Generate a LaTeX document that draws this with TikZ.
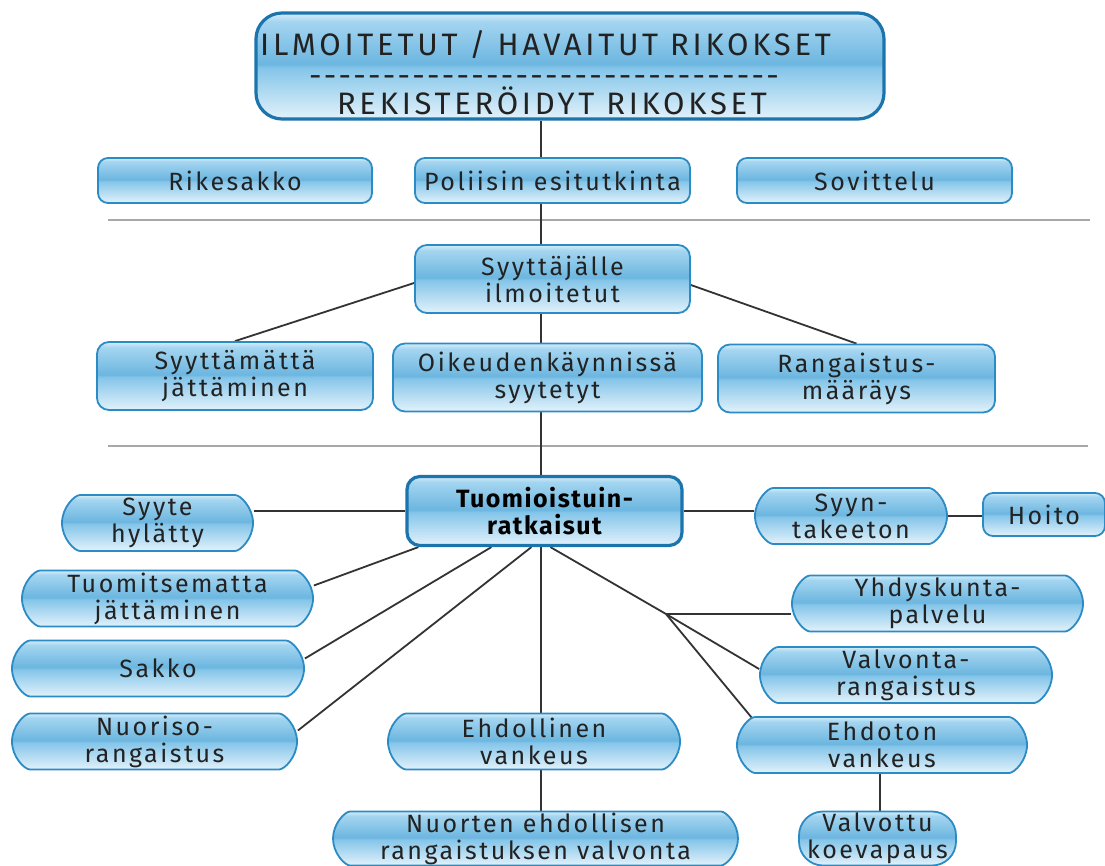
\documentclass[tikz,border=0pt]{standalone}
\usepackage{fontspec}
\setmainfont{Fira Sans}
\newfontfamily\labfont{Fira Sans}[LetterSpace=10]
\newfontfamily\boldlab{Fira Sans}[LetterSpace=6]
\newfontfamily\bigfont{Fira Sans}[LetterSpace=12]
\usetikzlibrary{shapes.misc,backgrounds}
\definecolor{bord}{HTML}{2A8BC5}
\definecolor{bordd}{HTML}{1C74AC}
\definecolor{txt}{HTML}{222222}
\definecolor{conn}{HTML}{333333}
\definecolor{sep}{HTML}{A8A8A8}
\definecolor{gB}{HTML}{E2F2FB}
\definecolor{gM1}{HTML}{85C5E9}
\definecolor{gM2}{HTML}{6CB6E0}
\definecolor{gT}{HTML}{A4D5F0}
\definecolor{gE}{HTML}{D6EDF9}
\pgfdeclareverticalshading{gloss}{100bp}{color(0bp)=(gB); color(25bp)=(gB); color(49bp)=(gM1); color(51bp)=(gM2); color(71bp)=(gT); color(75bp)=(gE); color(100bp)=(gE)}
\newcommand\dashrow{\count255=0 \loop\makebox[14.75pt]{-}\advance\count255 by 1 \ifnum\count255<32 \repeat}
\begin{document}
\begin{tikzpicture}[x=1pt,y=-1pt,
  box/.style={rectangle, draw=bord, line width=1.8pt, shade, shading=gloss, rounded corners=10pt,
    inner sep=0pt, align=center, text=txt, font=\labfont\fontsize{25}{27}\selectfont},
  pill/.style={box, rounded rectangle, rounded rectangle arc length=180},
  heavy/.style={draw=bordd, line width=3.2pt},
  conline/.style={draw=conn, line width=1.8pt},
  sepline/.style={draw=sep, line width=1.4pt},
  bigtext/.style={text=txt, font=\bigfont\fontsize{31}{36}\selectfont, inner sep=0pt}
]
\useasboundingbox (0,0) rectangle (1105,866);
\coordinate (sp) at (541,0);
\coordinate (vp) at (880,0);
\coordinate (j) at (666,614);
\coordinate (g1a) at (108,220);
\coordinate (g1b) at (1090,220);
\coordinate (g2a) at (108,446);
\coordinate (g2b) at (1088,446);

% top box
\node[box, heavy, rounded corners=26pt, minimum width=628pt, minimum height=106pt] (top) at (570,66) {};
\node[bigtext, anchor=west] (t1) at (260,45) {ILMOITETUT / HAVAITUT RIKOKSET};
\node[bigtext] (t2) at (544,81) {\dashrow};
\node[bigtext] (t3) at (552,101) {REKISTERÖIDYT RIKOKSET};

% row 2
\node[box, minimum width=274pt, minimum height=45pt] (rik) at (235,180.5) {Rikesakko};
\node[box, minimum width=275pt, minimum height=45pt] (pol) at (552.5,180.5) {Poliisin esitutkinta};
\node[box, minimum width=275pt, minimum height=45pt] (sov) at (874.5,180.5) {Sovittelu};

% row 3
\node[box, rounded corners=12pt, minimum width=275pt, minimum height=68pt] (syy) at (552.5,279) {Syyttäjälle\\ilmoitetut};
\node[box, rounded corners=12pt, minimum width=276pt, minimum height=68pt] (stm) at (235,376) {Syyttämättä\\jättäminen};
\node[box, rounded corners=12pt, minimum width=309pt, minimum height=68pt] (oik) at (547.5,377.5) {Oikeudenkäynnissä\\syytetyt};
\node[box, rounded corners=12pt, minimum width=277pt, minimum height=68pt] (ran) at (856.5,378.5) {Rangaistus-\\määräys};

% court
\node[box, heavy, rounded corners=13pt, minimum width=275pt, minimum height=69pt,
  font=\boldlab\bfseries\fontsize{25}{27}\selectfont, text=black] (tuo) at (544.5,511) {Tuomioistuin-\\ratkaisut};

% left
\node[pill, minimum width=191pt, minimum height=56pt] (syh) at (157.5,523) {Syyte\\hylätty};
\node[pill, minimum width=291pt, minimum height=56pt] (tuj) at (167.5,598.5) {Tuomitsematta\\jättäminen};
\node[pill, minimum width=292pt, minimum height=56pt] (sak) at (158,668.5) {Sakko};
\node[pill, minimum width=285pt, minimum height=56pt] (nur) at (154.5,741.5) {Nuoriso-\\rangaistus};

% middle
\node[pill, minimum width=292pt, minimum height=56pt] (ehl) at (534,741.5) {Ehdollinen\\vankeus};
\node[pill, minimum width=405pt, minimum height=54pt] (nev) at (535.5,838.5) {Nuorten ehdollisen\\rangaistuksen valvonta};

% right
\node[pill, minimum width=192pt, minimum height=56pt] (syn) at (851,516) {Syyn-\\takeeton};
\node[box, minimum width=122pt, minimum height=43pt] (hoi) at (1044,514.5) {Hoito};
\node[pill, minimum width=291pt, minimum height=56pt] (yhd) at (937.5,603.5) {Yhdyskunta-\\palvelu};
\node[pill, minimum width=292pt, minimum height=56pt] (vra) at (906,675) {Valvonta-\\rangaistus};
\node[pill, minimum width=290pt, minimum height=56pt] (eht) at (882,745) {Ehdoton\\vankeus};
\node[box, rounded corners=24pt, minimum width=157pt, minimum height=54pt] (vko) at (877.5,838.5) {Valvottu\\koevapaus};

\begin{scope}[on background layer]
\fill[white] (0,0) rectangle (1105,866);
\draw[sepline] (g1a) -- (g1b);
\draw[sepline] (g2a) -- (g2b);
\draw[conline] (top.south -| sp) -- (pol.north -| sp);
\draw[conline] (pol.south -| sp) -- (syy.north -| sp);
\draw[conline] (syy.south -| sp) -- (oik.north -| sp);
\draw[conline] (oik.south -| sp) -- (tuo.north -| sp);
\draw[conline] ([yshift=-4pt]syy.west) -- (stm.north);
\draw[conline] ([yshift=-6pt]syy.east) -- (ran.north);
\draw[conline] (tuo.west) -- (syh.east |- tuo.west);
\draw[conline] ([xshift=13pt]tuo.south west) -- ([yshift=13pt]tuj.east);
\draw[conline] ([xshift=86pt]tuo.south west) -- ([yshift=10pt]sak.east);
\draw[conline] ([xshift=126pt]tuo.south west) -- ([yshift=11pt]nur.east);
\draw[conline] (tuo.south -| sp) -- (ehl.north -| sp);
\draw[conline] (ehl.south -| sp) -- (nev.north -| sp);
\draw[conline] ([xshift=145pt]tuo.south west) -- (j);
\draw[conline] (j) -- (yhd.west |- j);
\draw[conline] (j) -- ([yshift=6pt]vra.west);
\draw[conline] (j) -- ([xshift=-130pt,yshift=27pt]eht.center);
\draw[conline] (tuo.east) -- (syn.west |- tuo.east);
\draw[conline] (syn.east) -- (hoi.west |- syn.east);
\draw[conline] (eht.south -| vp) -- (vko.north -| vp);
\end{scope}
\end{tikzpicture}
\end{document}
